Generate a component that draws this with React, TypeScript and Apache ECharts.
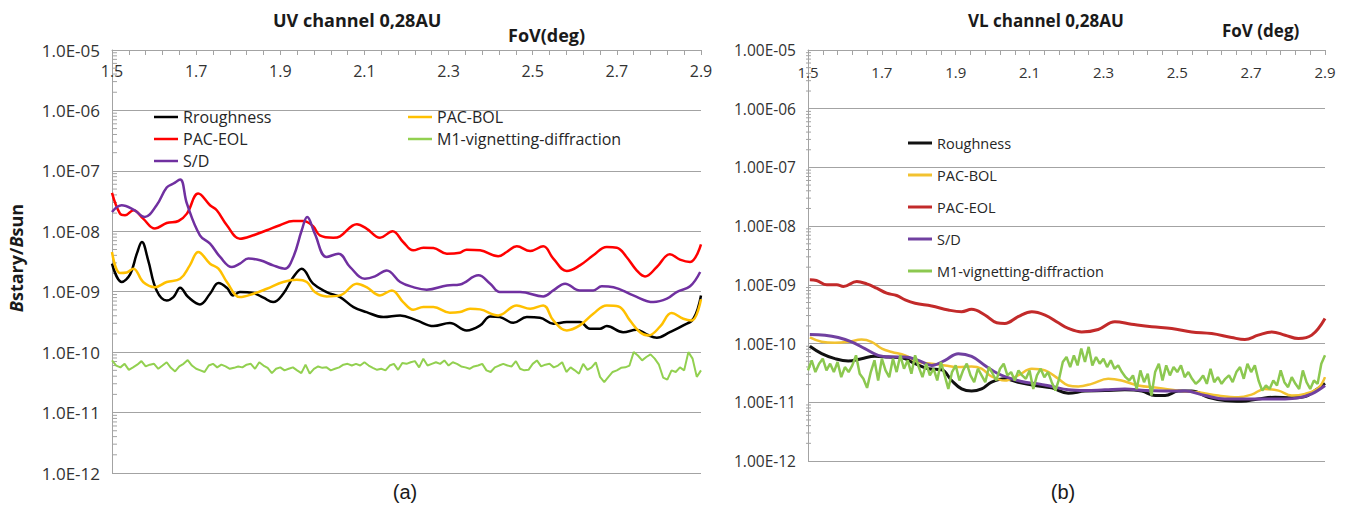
import React, { useEffect, useRef } from "react";
import * as echarts from "echarts";

// ---------- axis ticks ----------
const FOV_LABELS = [1.5, 1.7, 1.9, 2.1, 2.3, 2.5, 2.7, 2.9];
const FOV_TICKS = [
  1.5, 1.54, 1.58, 1.62, 1.66, 1.7, 1.74, 1.78, 1.82, 1.86, 1.9, 1.94, 1.98, 2.02, 2.06, 2.1, 2.14, 2.18,
  2.22, 2.26, 2.3, 2.34, 2.38, 2.42, 2.46, 2.5, 2.54, 2.58, 2.62, 2.66, 2.7, 2.74, 2.78, 2.82, 2.86, 2.9,
];
const DECADES = [1e-12, 1e-11, 1e-10, 1e-9, 1e-8, 1e-7, 1e-6];
const MINOR_MULTS = [2, 3, 4, 5, 6, 7, 8, 9];

// ---------- UV channel (a) ----------
const UV_ROUGHNESS: [number, number][] = [
  [1.5, 2.91e-9], [1.523, 1.45e-9], [1.543, 1.94e-9], [1.559, 4.26e-9], [1.571, 6.65e-9], [1.586, 3.31e-9],
  [1.606, 1.05e-9], [1.63, 7.18e-10], [1.646, 8.16e-10], [1.662, 1.16e-9], [1.681, 8.16e-10], [1.709, 6.17e-10],
  [1.733, 9.26e-10], [1.753, 1.39e-9], [1.773, 1.16e-9], [1.788, 8.69e-10], [1.804, 9.87e-10], [1.836, 9.5e-10],
  [1.86, 7.96e-10], [1.883, 6.74e-10], [1.907, 9.26e-10], [1.931, 1.75e-9], [1.951, 2.41e-9], [1.978, 1.36e-9],
  [2.01, 9.87e-10], [2.042, 8.16e-10], [2.074, 5.57e-10], [2.105, 4.6e-10], [2.145, 3.8e-10], [2.185, 4.05e-10],
  [2.224, 3.35e-10], [2.264, 2.7e-10], [2.303, 3.03e-10], [2.343, 2.29e-10], [2.375, 2.77e-10], [2.399, 3.9e-10],
  [2.422, 3.8e-10], [2.454, 3.06e-10], [2.486, 3.8e-10], [2.517, 3.71e-10], [2.549, 2.95e-10], [2.581, 3.14e-10],
  [2.612, 3.14e-10], [2.636, 2.44e-10], [2.66, 2.44e-10], [2.676, 2.7e-10], [2.715, 2.14e-10], [2.747, 2.35e-10],
  [2.771, 1.96e-10], [2.795, 1.73e-10], [2.826, 2.14e-10], [2.858, 2.77e-10], [2.882, 3.57e-10], [2.9, 8.69e-10],
];
const UV_PAC_BOL: [number, number][] = [
  [1.5, 4.54e-9], [1.519, 2.04e-9], [1.535, 2.08e-9], [1.551, 2.41e-9], [1.574, 1.45e-9], [1.602, 1.19e-9],
  [1.63, 1.45e-9], [1.662, 1.64e-9], [1.685, 2.73e-9], [1.705, 4.54e-9], [1.733, 2.91e-9], [1.753, 2.41e-9],
  [1.773, 1.45e-9], [1.804, 8.16e-10], [1.836, 9.26e-10], [1.868, 1.12e-9], [1.907, 1.45e-9], [1.939, 1.58e-9],
  [1.963, 1.45e-9], [1.982, 9.87e-10], [2.01, 8.37e-10], [2.042, 8.69e-10], [2.082, 1.36e-9], [2.105, 1.19e-9],
  [2.137, 8.69e-10], [2.165, 1.05e-9], [2.192, 6.74e-10], [2.216, 5.03e-10], [2.24, 5.57e-10], [2.264, 5.57e-10],
  [2.303, 4.49e-10], [2.327, 4.6e-10], [2.351, 5.23e-10], [2.375, 5.1e-10], [2.418, 4.05e-10], [2.462, 5.93e-10],
  [2.494, 5.23e-10], [2.525, 5.93e-10], [2.549, 3.35e-10], [2.581, 2.29e-10], [2.612, 2.77e-10], [2.644, 4.32e-10],
  [2.676, 5.93e-10], [2.704, 5.71e-10], [2.731, 3.35e-10], [2.755, 2.14e-10], [2.775, 1.89e-10], [2.803, 2.66e-10],
  [2.83, 4.43e-10], [2.858, 3.57e-10], [2.878, 3.35e-10], [2.9, 7.5e-10],
];
const UV_PAC_EOL: [number, number][] = [
  [1.5, 4.31e-8], [1.519, 1.96e-8], [1.531, 1.84e-8], [1.551, 2.23e-8], [1.574, 1.62e-8], [1.602, 1.11e-8],
  [1.63, 1.37e-8], [1.658, 1.48e-8], [1.678, 1.96e-8], [1.705, 4.21e-8], [1.733, 2.7e-8], [1.749, 2.23e-8],
  [1.773, 1.26e-8], [1.804, 7.55e-9], [1.836, 8.59e-9], [1.868, 1.04e-8], [1.899, 1.26e-8], [1.931, 1.48e-8],
  [1.955, 1.48e-8], [1.978, 1.21e-8], [1.994, 8.59e-9], [2.026, 7.85e-9], [2.042, 8.26e-9], [2.082, 1.31e-8],
  [2.105, 1.11e-8], [2.137, 7.85e-9], [2.167, 1.0e-8], [2.192, 6.65e-9], [2.216, 4.84e-9], [2.24, 5.36e-9],
  [2.264, 5.29e-9], [2.296, 4.26e-9], [2.327, 4.43e-9], [2.343, 4.97e-9], [2.375, 4.84e-9], [2.418, 3.85e-9],
  [2.438, 4.54e-9], [2.462, 5.64e-9], [2.494, 4.72e-9], [2.525, 5.64e-9], [2.549, 3.53e-9], [2.581, 2.2e-9],
  [2.612, 2.73e-9], [2.644, 4.0e-9], [2.676, 5.5e-9], [2.7, 5.36e-9], [2.723, 3.76e-9], [2.747, 2.26e-9],
  [2.767, 1.79e-9], [2.795, 2.56e-9], [2.826, 4.16e-9], [2.85, 3.39e-9], [2.874, 3.1e-9], [2.9, 6.09e-9],
];
const UV_SD: [number, number][] = [
  [1.5, 2.09e-8], [1.523, 2.7e-8], [1.551, 2.29e-8], [1.578, 1.73e-8], [1.606, 2.7e-8], [1.63, 5.3e-8],
  [1.646, 6.17e-8], [1.662, 7.18e-8], [1.678, 2.88e-8], [1.709, 8.59e-9], [1.733, 6.25e-9], [1.757, 3.76e-9],
  [1.785, 2.56e-9], [1.804, 2.91e-9], [1.824, 3.53e-9], [1.852, 3.31e-9], [1.883, 2.73e-9], [1.911, 2.41e-9],
  [1.931, 3.76e-9], [1.951, 1.04e-8], [1.964, 1.73e-8], [1.982, 9.14e-9], [2.01, 3.76e-9], [2.038, 4.26e-9],
  [2.066, 2.56e-9], [2.101, 1.64e-9], [2.125, 1.79e-9], [2.153, 2.25e-9], [2.185, 1.45e-9], [2.216, 1.19e-9],
  [2.248, 1.08e-9], [2.296, 1.27e-9], [2.327, 1.32e-9], [2.371, 1.87e-9], [2.399, 1.36e-9], [2.422, 9.87e-10],
  [2.47, 9.87e-10], [2.525, 8.37e-10], [2.549, 1.05e-9], [2.577, 1.36e-9], [2.612, 1.05e-9], [2.644, 1.05e-9],
  [2.664, 1.23e-9], [2.692, 1.19e-9], [2.739, 8.69e-10], [2.787, 6.74e-10], [2.819, 7.66e-10], [2.842, 9.87e-10],
  [2.874, 1.23e-9], [2.898, 2.12e-9],
];
// M1-vignetting-diffraction, sampled every 0.01 deg from 1.50
const M1_FOV_START = 1.5;
const M1_FOV_STEP = 0.01;
const UV_M1: number[] = [
  7.3e-11, 6.0e-11, 5.6e-11, 6.4e-11, 5.1e-11, 5.6e-11, 6.2e-11, 7.1e-11, 5.8e-11, 6.2e-11,
  6.4e-11, 5.3e-11, 6.0e-11, 6.8e-11, 5.5e-11, 4.8e-11, 5.8e-11, 6.4e-11, 7.4e-11, 6.0e-11,
  5.3e-11, 5.0e-11, 4.7e-11, 6.0e-11, 6.4e-11, 5.6e-11, 6.2e-11, 5.8e-11, 5.3e-11, 5.5e-11,
  5.8e-11, 5.6e-11, 6.2e-11, 6.4e-11, 5.3e-11, 6.8e-11, 6.0e-11, 5.5e-11, 4.5e-11, 5.3e-11,
  5.6e-11, 5.0e-11, 5.3e-11, 5.6e-11, 5.0e-11, 4.5e-11, 6.2e-11, 4.4e-11, 5.3e-11, 5.8e-11,
  5.5e-11, 5.6e-11, 5.0e-11, 5.3e-11, 5.6e-11, 6.2e-11, 6.4e-11, 6.0e-11, 6.4e-11, 6.0e-11,
  6.8e-11, 6.0e-11, 5.5e-11, 5.1e-11, 5.3e-11, 5.0e-11, 6.0e-11, 6.4e-11, 5.1e-11, 6.6e-11,
  6.4e-11, 6.8e-11, 7.1e-11, 5.6e-11, 7.8e-11, 6.0e-11, 6.4e-11, 6.8e-11, 6.4e-11, 7.3e-11,
  6.0e-11, 6.8e-11, 6.4e-11, 5.8e-11, 5.6e-11, 5.3e-11, 5.8e-11, 6.0e-11, 6.4e-11, 5.0e-11,
  4.7e-11, 5.6e-11, 6.0e-11, 6.4e-11, 6.0e-11, 5.8e-11, 7.1e-11, 5.3e-11, 5.0e-11, 5.1e-11,
  6.4e-11, 7.3e-11, 5.8e-11, 6.2e-11, 6.4e-11, 5.6e-11, 6.0e-11, 6.8e-11, 4.7e-11, 5.6e-11,
  5.0e-11, 4.4e-11, 6.4e-11, 5.1e-11, 5.6e-11, 6.8e-11, 3.9e-11, 3.2e-11, 3.9e-11, 4.7e-11,
  5.0e-11, 5.5e-11, 5.6e-11, 6.0e-11, 1.0e-10, 8.8e-11, 7.3e-11, 8.3e-11, 9.2e-11, 7.8e-11,
  6.2e-11, 3.8e-11, 3.5e-11, 5.0e-11, 4.7e-11, 5.6e-11, 5.0e-11, 1.0e-10, 7.8e-11, 3.9e-11,
  5.0e-11,
];

// ---------- VL channel (b) ----------
const VL_ROUGHNESS: [number, number][] = [
  [1.505, 9.0e-11], [1.537, 6.74e-11], [1.573, 5.53e-11], [1.609, 5.04e-11], [1.645, 5.53e-11], [1.681, 6.07e-11],
  [1.717, 5.91e-11], [1.754, 5.75e-11], [1.79, 4.54e-11], [1.826, 3.73e-11], [1.862, 3.58e-11], [1.889, 2.35e-11],
  [1.916, 1.69e-11], [1.943, 1.55e-11], [1.97, 1.69e-11], [1.997, 2.2e-11], [2.033, 2.51e-11], [2.069, 2.2e-11],
  [2.115, 1.93e-11], [2.16, 1.76e-11], [2.205, 1.43e-11], [2.25, 1.55e-11], [2.304, 1.58e-11], [2.358, 1.63e-11],
  [2.404, 1.55e-11], [2.44, 1.3e-11], [2.467, 1.3e-11], [2.503, 1.55e-11], [2.539, 1.55e-11], [2.584, 1.22e-11],
  [2.629, 1.07e-11], [2.674, 1.04e-11], [2.719, 1.14e-11], [2.765, 1.22e-11], [2.81, 1.19e-11], [2.846, 1.25e-11],
  [2.873, 1.58e-11], [2.9, 2.1e-11],
];
const VL_PAC_BOL: [number, number][] = [
  [1.505, 1.27e-10], [1.537, 1.07e-10], [1.573, 1.03e-10], [1.609, 1.07e-10], [1.645, 1.17e-10], [1.672, 1.07e-10],
  [1.7, 8.2e-11], [1.727, 7.2e-11], [1.763, 6.31e-11], [1.799, 4.85e-11], [1.835, 4.54e-11], [1.871, 4.25e-11],
  [1.907, 3.98e-11], [1.943, 4.08e-11], [1.97, 3.73e-11], [1.997, 2.75e-11], [2.033, 2.35e-11], [2.069, 2.87e-11],
  [2.106, 3.73e-11], [2.142, 3.49e-11], [2.178, 2.51e-11], [2.205, 1.93e-11], [2.232, 1.86e-11], [2.268, 2.06e-11],
  [2.313, 2.51e-11], [2.349, 2.35e-11], [2.394, 1.93e-11], [2.449, 1.76e-11], [2.503, 1.58e-11], [2.557, 1.48e-11],
  [2.611, 1.3e-11], [2.665, 1.22e-11], [2.701, 1.35e-11], [2.737, 1.69e-11], [2.774, 1.58e-11], [2.81, 1.3e-11],
  [2.846, 1.39e-11], [2.882, 1.76e-11], [2.9, 2.68e-11],
];
const VL_PAC_EOL: [number, number][] = [
  [1.505, 1.22e-9], [1.523, 1.19e-9], [1.551, 1.0e-9], [1.578, 1.0e-9], [1.596, 9.37e-10], [1.632, 1.14e-9],
  [1.659, 1.04e-9], [1.686, 8.78e-10], [1.713, 7.21e-10], [1.74, 6.58e-10], [1.763, 5.53e-10], [1.79, 4.85e-10],
  [1.835, 4.37e-10], [1.88, 3.73e-10], [1.916, 3.49e-10], [1.943, 3.83e-10], [1.979, 3.06e-10], [2.011, 2.26e-10],
  [2.033, 2.2e-10], [2.069, 2.87e-10], [2.106, 3.49e-10], [2.142, 3.06e-10], [2.178, 2.26e-10], [2.205, 1.81e-10],
  [2.241, 1.58e-10], [2.286, 1.74e-10], [2.331, 2.35e-10], [2.376, 2.14e-10], [2.431, 1.93e-10], [2.485, 1.81e-10],
  [2.539, 1.58e-10], [2.593, 1.48e-10], [2.647, 1.27e-10], [2.683, 1.17e-10], [2.719, 1.39e-10], [2.756, 1.58e-10],
  [2.792, 1.39e-10], [2.828, 1.22e-10], [2.864, 1.39e-10], [2.9, 2.68e-10],
];
const VL_SD: [number, number][] = [
  [1.505, 1.43e-10], [1.546, 1.39e-10], [1.582, 1.27e-10], [1.618, 1.07e-10], [1.654, 8.2e-11], [1.69, 6.31e-11],
  [1.727, 5.91e-11], [1.763, 5.91e-11], [1.799, 5.18e-11], [1.835, 4.25e-11], [1.871, 5.18e-11], [1.907, 6.74e-11],
  [1.943, 6.07e-11], [1.979, 4.25e-11], [2.015, 3.06e-11], [2.052, 2.51e-11], [2.088, 2.2e-11], [2.124, 2.06e-11],
  [2.16, 1.86e-11], [2.205, 1.63e-11], [2.25, 1.58e-11], [2.304, 1.63e-11], [2.358, 1.69e-11], [2.413, 1.58e-11],
  [2.467, 1.55e-11], [2.521, 1.55e-11], [2.575, 1.3e-11], [2.629, 1.14e-11], [2.683, 1.14e-11], [2.737, 1.14e-11],
  [2.792, 1.14e-11], [2.828, 1.19e-11], [2.864, 1.39e-11], [2.9, 1.93e-11],
];
const VL_M1: number[] = [
  3.49e-11, 5.18e-11, 3.27e-11, 4.54e-11, 5.53e-11, 3.49e-11, 4.54e-11, 3.27e-11, 4.85e-11, 2.68e-11,
  3.98e-11, 3.27e-11, 4.25e-11, 6.31e-11, 3.06e-11, 2.51e-11, 1.76e-11, 3.27e-11, 5.18e-11, 2.35e-11,
  5.53e-11, 3.49e-11, 2.68e-11, 5.53e-11, 3.27e-11, 6.31e-11, 3.73e-11, 5.18e-11, 3.06e-11, 6.31e-11,
  3.98e-11, 2.68e-11, 4.54e-11, 2.87e-11, 3.73e-11, 2.35e-11, 4.85e-11, 2.87e-11, 1.69e-11, 3.27e-11,
  4.25e-11, 2.35e-11, 3.49e-11, 4.54e-11, 2.87e-11, 2.2e-11, 3.73e-11, 2.87e-11, 2.2e-11, 3.98e-11,
  3.06e-11, 2.35e-11, 3.73e-11, 4.54e-11, 2.87e-11, 3.27e-11, 2.35e-11, 3.49e-11, 2.87e-11, 2.51e-11,
  3.49e-11, 1.69e-11, 2.87e-11, 3.73e-11, 2.68e-11, 3.27e-11, 2.2e-11, 1.58e-11, 2.51e-11, 4.85e-11,
  5.91e-11, 3.98e-11, 6.31e-11, 4.25e-11, 8.2e-11, 4.85e-11, 8.77e-11, 4.25e-11, 5.91e-11, 4.54e-11,
  5.53e-11, 3.98e-11, 5.18e-11, 3.73e-11, 4.25e-11, 3.27e-11, 2.68e-11, 2.35e-11, 2.87e-11, 1.69e-11,
  3.49e-11, 2.2e-11, 3.06e-11, 1.3e-11, 3.27e-11, 4.54e-11, 2.35e-11, 4.25e-11, 2.87e-11, 3.98e-11,
  3.27e-11, 4.25e-11, 2.68e-11, 3.27e-11, 2.51e-11, 2.06e-11, 2.35e-11, 2.87e-11, 2.06e-11, 3.73e-11,
  2.2e-11, 2.68e-11, 2.06e-11, 2.51e-11, 2.87e-11, 2.2e-11, 3.27e-11, 3.98e-11, 2.51e-11, 4.54e-11,
  3.27e-11, 4.25e-11, 2.35e-11, 1.58e-11, 1.93e-11, 1.69e-11, 2.35e-11, 1.93e-11, 3.49e-11, 2.2e-11,
  1.81e-11, 2.68e-11, 2.06e-11, 1.69e-11, 3.49e-11, 2.2e-11, 1.69e-11, 2.35e-11, 2.06e-11, 4.54e-11,
  6.31e-11,
];

// ---------- helpers ----------
const FONT = "'Open Sans', 'DejaVu Sans', sans-serif";
const withFov = (vals: number[]) => vals.map((v, i) => [+(M1_FOV_START + i * M1_FOV_STEP).toFixed(2), v]);
const minorYValues = () => {
  const out: number[][] = [];
  DECADES.forEach((d) => MINOR_MULTS.forEach((m) => out.push([1.5, m * d])));
  return out;
};
const sciLabel = (digits: number) => (v: number) => {
  const e = Math.round(Math.log10(v));
  return (1).toFixed(digits) + "E-" + String(-e).padStart(2, "0");
};

type LineDef = { name: string; color: string; data: number[][]; smooth: boolean; width: number };
type LegendDef = { left: number; top: number; names: string[]; gap: number; fontSize: number; iconH: number };

function buildOption(cfg: {
  grid: { left: number; top: number; width: number; height: number };
  labelDigits: number;
  yFont: number;
  xFont: number;
  xLabelMargin: number;
  lines: LineDef[];
  legends: LegendDef[];
  graphic: any[];
  tickLen: number;
  tickOffset: number;
}) {
  const gray = "#a3a3a3";
  const labelColor = "#333333";
  return {
    animation: false,
    backgroundColor: "#ffffff",
    grid: { ...cfg.grid, containLabel: false },
    xAxis: {
      type: "value",
      position: "top",
      min: 1.5,
      max: 2.9,
      axisLine: { show: true, onZero: false, lineStyle: { color: gray, width: 1 } },
      axisTick: { show: true, inside: true, length: 5, customValues: FOV_TICKS, lineStyle: { color: gray } },
      axisLabel: {
        inside: true,
        margin: cfg.xLabelMargin,
        customValues: FOV_LABELS,
        formatter: (v: number) => v.toFixed(1),
        fontSize: cfg.xFont,
        fontFamily: FONT,
        color: labelColor,
      },
      splitLine: { show: false },
    },
    yAxis: {
      type: "log",
      logBase: 10,
      min: 1e-12,
      max: 1e-5,
      splitNumber: 7,
      axisLine: { show: true, lineStyle: { color: gray, width: 1 } },
      axisTick: { show: false },
      axisLabel: {
        formatter: sciLabel(cfg.labelDigits),
        fontSize: cfg.yFont,
        fontFamily: FONT,
        color: labelColor,
        margin: 12,
      },
      splitLine: { show: true, lineStyle: { color: gray, width: 1 } },
    },
    legend: cfg.legends.map((l) => ({
      orient: "vertical",
      left: l.left,
      top: l.top,
      padding: 0,
      itemGap: l.gap,
      itemWidth: 24,
      itemHeight: l.iconH,
      icon: "rect",
      selectedMode: false,
      data: l.names,
      textStyle: { fontSize: l.fontSize, fontFamily: FONT, color: "#262626", lineHeight: 18 },
    })),
    series: [
      {
        type: "custom",
        name: "minor-ticks",
        silent: true,
        clip: false,
        z: 1,
        data: minorYValues(),
        encode: { x: 0, y: 1 },
        renderItem: (_p: any, api: any) => {
          const pt = api.coord([api.value(0), api.value(1)]);
          return {
            type: "line",
            shape: { x1: pt[0] + cfg.tickOffset, y1: pt[1], x2: pt[0] + cfg.tickOffset + cfg.tickLen, y2: pt[1] },
            style: { stroke: gray, lineWidth: 1 },
          };
        },
      },
      ...cfg.lines.map((l, i) => ({
        type: "line",
        name: l.name,
        data: l.data,
        smooth: l.smooth ? 0.4 : false,
        symbol: "none",
        showSymbol: false,
        z: 3 + i,
        lineStyle: { color: l.color, width: l.width },
        itemStyle: { color: l.color },
      })),
    ],
    graphic: cfg.graphic,
  };
}

const optionA = () =>
  buildOption({
    grid: { left: 112, top: 50, width: 589, height: 423 },
    labelDigits: 1,
    yFont: 17,
    xFont: 16,
    xLabelMargin: 13,
    tickLen: 5,
    tickOffset: 0,
    lines: [
      { name: "Rroughness", color: "#000000", data: UV_ROUGHNESS, smooth: true, width: 2.5 },
      { name: "PAC-BOL", color: "#ffc000", data: UV_PAC_BOL, smooth: true, width: 2.5 },
      { name: "PAC-EOL", color: "#ff0000", data: UV_PAC_EOL, smooth: true, width: 2.5 },
      { name: "M1-vignetting-diffraction", color: "#92d050", data: withFov(UV_M1), smooth: false, width: 2 },
      { name: "S/D", color: "#7030a0", data: UV_SD, smooth: true, width: 2.5 },
    ],
    legends: [
      { left: 154, top: 108, names: ["Rroughness", "PAC-EOL", "S/D"], gap: 4, fontSize: 16, iconH: 2.5 },
      { left: 408, top: 108, names: ["PAC-BOL", "M1-vignetting-diffraction"], gap: 4, fontSize: 16, iconH: 2.5 },
    ],
    graphic: [
      {
        type: "text",
        x: 273,
        y: 20,
        style: { text: "UV channel 0,28AU", font: `bold 18px ${FONT}`, fill: "#1a1a1a", align: "left", verticalAlign: "middle" },
      },
      {
        type: "text",
        x: 508,
        y: 35,
        style: { text: "FoV(deg)", font: `bold 18px ${FONT}`, fill: "#1a1a1a", align: "left", verticalAlign: "middle" },
      },
      {
        type: "text",
        x: 16,
        y: 258,
        rotation: Math.PI / 2,
        style: {
          text: "{i|B}{n|stary/}{i|B}{n|sun}",
          align: "center",
          verticalAlign: "middle",
          fill: "#1a1a1a",
          rich: {
            i: { fontStyle: "italic", fontWeight: "bold", fontSize: 18, fontFamily: FONT, fill: "#1a1a1a" },
            n: { fontWeight: "bold", fontSize: 18, fontFamily: FONT, fill: "#1a1a1a" },
          },
        },
      },
      {
        type: "text",
        x: 405,
        y: 492,
        style: { text: "(a)", font: "20px 'Liberation Sans', Arial, sans-serif", fill: "#1a1a1a", align: "center", verticalAlign: "middle" },
      },
    ],
  });

const optionB = () =>
  buildOption({
    grid: { left: 88, top: 50, width: 517, height: 411 },
    labelDigits: 2,
    yFont: 15.5,
    xFont: 15,
    xLabelMargin: 14,
    tickLen: 5,
    tickOffset: -2,
    lines: [
      { name: "Roughness", color: "#111111", data: VL_ROUGHNESS, smooth: true, width: 3 },
      { name: "PAC-BOL", color: "#f2c230", data: VL_PAC_BOL, smooth: true, width: 2.5 },
      { name: "PAC-EOL", color: "#c22a2a", data: VL_PAC_EOL, smooth: true, width: 3 },
      { name: "S/D", color: "#7040a0", data: VL_SD, smooth: true, width: 3 },
      { name: "M1-vignetting-diffraction", color: "#8cc850", data: withFov(VL_M1), smooth: false, width: 2.5 },
    ],
    legends: [
      {
        left: 188,
        top: 134,
        names: ["Roughness", "PAC-BOL", "PAC-EOL", "S/D", "M1-vignetting-diffraction"],
        gap: 14,
        fontSize: 14.5,
        iconH: 3,
      },
    ],
    graphic: [
      {
        type: "text",
        x: 248,
        y: 20,
        style: { text: "VL channel 0,28AU", font: `bold 17px ${FONT}`, fill: "#1a1a1a", align: "left", verticalAlign: "middle" },
      },
      {
        type: "text",
        x: 502,
        y: 30,
        style: { text: "FoV (deg)", font: `bold 17px ${FONT}`, fill: "#1a1a1a", align: "left", verticalAlign: "middle" },
      },
      {
        type: "text",
        x: 343,
        y: 492,
        style: { text: "(b)", font: "20px 'Liberation Sans', Arial, sans-serif", fill: "#1a1a1a", align: "center", verticalAlign: "middle" },
      },
    ],
  });

function Panel({ left, width, build }: { left: number; width: number; build: () => any }) {
  const ref = useRef<HTMLDivElement>(null);
  useEffect(() => {
    if (!ref.current) return;
    const chart = echarts.init(ref.current, undefined, { renderer: "svg" });
    chart.setOption(build());
    return () => chart.dispose();
  }, [build]);
  return <div ref={ref} style={{ position: "absolute", left, top: 0, width, height: 507 }} />;
}

export default function App() {
  return (
    <div style={{ position: "absolute", left: 0, top: 0, width: 1346, height: 507, background: "#ffffff", overflow: "hidden" }}>
      <Panel left={0} width={720} build={optionA} />
      <Panel left={720} width={626} build={optionB} />
    </div>
  );
}
